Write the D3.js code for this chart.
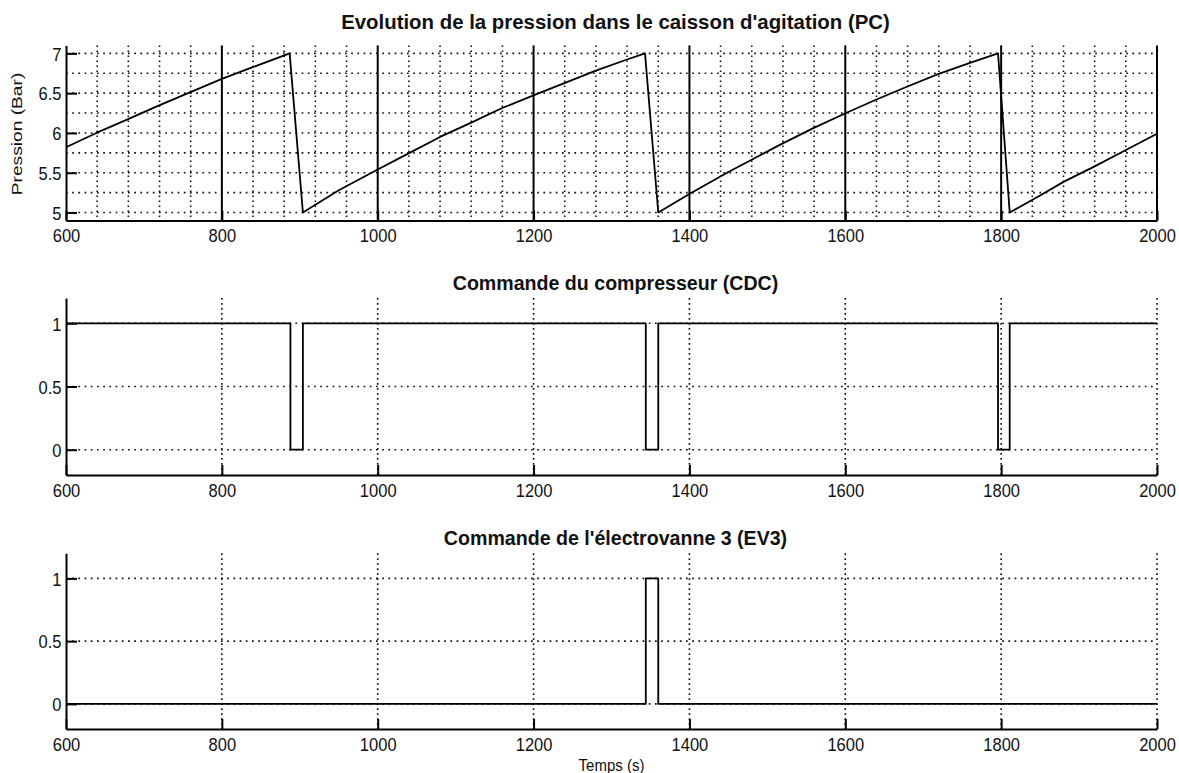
<!DOCTYPE html>
<html>
<head>
<meta charset="utf-8">
<script src="https://cdn.jsdelivr.net/npm/d3@7"></script>
<style>
  body { margin: 0; background: #fff; }
  text { font-family: "Liberation Sans", Arial, sans-serif; fill: #111; }
  .title { font-weight: bold; }
</style>
</head>
<body>
<div id="chart"></div>
<script>
// ---- data ----
var pcTime = [600, 639, 679, 718, 759, 800, 838, 887, 904, 950, 1000, 1039, 1080, 1118, 1159, 1199, 1238, 1279, 1319, 1343,
              1360, 1401, 1450, 1516, 1559, 1601, 1640, 1679, 1719, 1760, 1796, 1811, 1850, 1880, 1920, 1957, 2000];
var pcValues = [5.82, 6.00, 6.17, 6.34, 6.51, 6.68, 6.82, 7.00, 5.00, 5.28, 5.54, 5.74, 5.95, 6.12, 6.31, 6.47, 6.62, 6.78, 6.92, 7.00,
                5.00, 5.24, 5.51, 5.85, 6.06, 6.25, 6.42, 6.58, 6.74, 6.88, 7.00, 5.00, 5.215, 5.385, 5.58, 5.77, 5.99];

// compresseur: switching instants, value held until next instant
var cdcTime = [600, 888, 904, 1344, 1360, 1796, 1811, 2000];
var cdcValues = [1, 0, 1, 0, 1, 0, 1, 1];

// electrovanne 3
var ev3Time = [600, 1344, 1360, 2000];
var ev3Values = [0, 1, 0, 0];

var xTicks = [600, 800, 1000, 1200, 1400, 1600, 1800, 2000];
var pcTicks = [5, 5.5, 6, 6.5, 7];
var binTicks = [0, 0.5, 1];

var titles = ["Evolution de la pression dans le caisson d'agitation (PC)",
              "Commande du compresseur (CDC)",
              "Commande de l'électrovanne 3 (EV3)"];

// ---- layout ----
var W = 1179, H = 773;
var left = 66, right = 1157;
var stretch = 1.15; // text in the picture is taller than wide

var svg = d3.select("#chart")
  .append("svg")
    .attr("width", W)
    .attr("height", H);

var x = d3.scaleLinear().domain([600, 2000]).range([left, right]);

var panels = [
  { top: 45.4, bottom: 220.5, domain: [4.9, 7.1], ticks: pcTicks, time: pcTime, values: pcValues, curve: d3.curveLinear, titleY: 29, titleSize: 20.4 },
  { top: 298, bottom: 475, domain: [-0.2, 1.2], ticks: binTicks, time: cdcTime, values: cdcValues, curve: d3.curveStepAfter, titleY: 290, titleSize: 19.6 },
  { top: 553.3, bottom: 729, domain: [-0.2, 1.2], ticks: binTicks, time: ev3Time, values: ev3Values, curve: d3.curveStepAfter, titleY: 545, titleSize: 19.6 }
];

var dotH = "1.7,4.5", dotV = "1.7,3.3";
var dotColor = "#111";

panels.forEach(function(p, i) {
  var y = d3.scaleLinear().domain(p.domain).range([p.bottom, p.top]);
  var g = svg.append("g");

  // grid
  if (i === 0) {
    // minor vertical dotted every 40 s
    var minorX = d3.range(640, 2000, 40).filter(function(v) { return v % 200 !== 0; });
    g.selectAll(".vminor").data(minorX).enter().append("line")
      .attr("x1", d => x(d)).attr("x2", d => x(d))
      .attr("y1", p.top).attr("y2", p.bottom)
      .attr("stroke", dotColor).attr("stroke-width", 1.6).attr("stroke-dasharray", dotV);
    // horizontal dotted every 0.25
    g.selectAll(".hminor").data(d3.range(5, 7.01, 0.25)).enter().append("line")
      .attr("x1", left).attr("x2", right)
      .attr("y1", d => y(d)).attr("y2", d => y(d))
      .attr("stroke", dotColor).attr("stroke-width", 1.6).attr("stroke-dasharray", dotH);
    // major vertical solid
    g.selectAll(".vmajor").data(xTicks.slice(1)).enter().append("line")
      .attr("x1", d => x(d)).attr("x2", d => x(d))
      .attr("y1", p.top).attr("y2", p.bottom)
      .attr("stroke", "#000").attr("stroke-width", 2);
  } else {
    g.selectAll(".vgrid").data(xTicks.slice(1)).enter().append("line")
      .attr("x1", d => x(d)).attr("x2", d => x(d))
      .attr("y1", p.top).attr("y2", p.bottom)
      .attr("stroke", dotColor).attr("stroke-width", 1.6).attr("stroke-dasharray", dotV);
    g.selectAll(".hgrid").data(p.ticks).enter().append("line")
      .attr("x1", left).attr("x2", right)
      .attr("y1", d => y(d)).attr("y2", d => y(d))
      .attr("stroke", dotColor).attr("stroke-width", 1.6).attr("stroke-dasharray", dotH);
  }

  // axes
  var xAxis = g.append("g")
    .attr("transform", "translate(0," + p.bottom + ")")
    .call(d3.axisBottom(x).tickValues(xTicks).tickSizeInner(-10).tickSizeOuter(0)
      .tickFormat(d3.format("d")));
  var yAxis = g.append("g")
    .attr("transform", "translate(" + left + ",0)")
    .call(d3.axisLeft(y).tickValues(p.ticks).tickSizeInner(-11).tickSizeOuter(0)
      .tickFormat(d3.format("")));
  [xAxis, yAxis].forEach(function(a) {
    a.select(".domain").attr("stroke", "#000").attr("stroke-width", 2);
    a.selectAll(".tick line").attr("stroke", "#000").attr("stroke-width", 2);
    a.selectAll(".tick text").attr("font-size", 16.5).attr("fill", "#111")
      .style("font-family", "'Liberation Sans', Arial, sans-serif")
      .attr("y", null).attr("dy", null).attr("x", null);
  });
  // place the labels with a vertical stretch like the picture
  xAxis.selectAll(".tick text")
    .attr("text-anchor", "middle")
    .attr("transform", "translate(0,21.7) scale(1," + stretch + ")");
  yAxis.selectAll(".tick text")
    .attr("text-anchor", "end")
    .attr("transform", "translate(-4.5,6.8) scale(1," + stretch + ")");

  // series
  var line = d3.line()
    .x(function(d, k) { return x(p.time[k]); })
    .y(function(d) { return y(d); })
    .curve(p.curve);
  g.append("path")
    .datum(p.values)
    .attr("fill", "none")
    .attr("stroke", "#000")
    .attr("stroke-width", 1.8)
    .attr("stroke-linejoin", "round")
    .attr("d", line);

  // title
  g.append("text")
    .attr("class", "title")
    .attr("x", (left + right) / 2 + 4)
    .attr("y", p.titleY)
    .attr("text-anchor", "middle")
    .attr("font-size", p.titleSize)
    .text(titles[i]);
});

// axis labels
svg.append("text")
  .attr("transform", "translate(22,134) rotate(-90) scale(1.28,1)")
  .attr("text-anchor", "middle")
  .attr("font-size", 15)
  .text("Pression (Bar)");

svg.append("text")
  .attr("transform", "translate(" + ((left + right) / 2) + ",771) scale(1," + stretch + ")")
  .attr("text-anchor", "middle")
  .attr("font-size", 15)
  .text("Temps (s)");
</script>
</body>
</html>
